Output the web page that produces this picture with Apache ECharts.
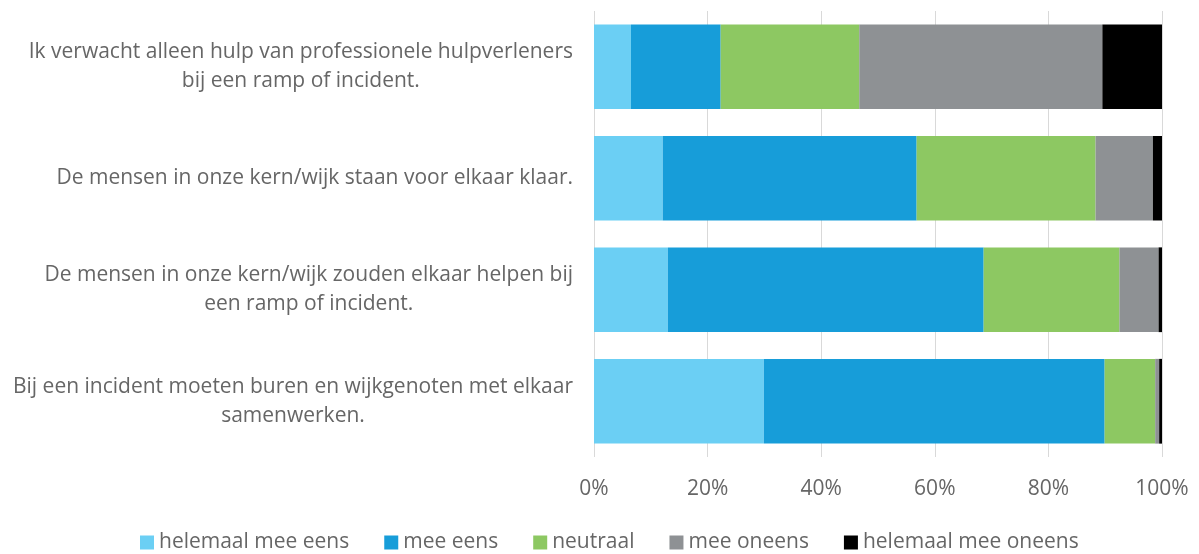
<!DOCTYPE html>
<html>
<head>
<meta charset="utf-8">
<script src="https://cdn.jsdelivr.net/npm/echarts@6/dist/echarts.min.js"></script>
<style>
  html, body { margin: 0; padding: 0; background: #fff; }
  #chart { width: 1199px; height: 554px; }
</style>
</head>
<body>
<div id="chart"></div>
<script>
// categories, bottom to top (ECharts category axis starts at the bottom)
const statements = [
    'Bij een incident moeten buren en wijkgenoten met elkaar\nsamenwerken.',
    'De mensen in onze kern/wijk zouden elkaar helpen bij\neen ramp of incident.',
    'De mensen in onze kern/wijk staan voor elkaar klaar.',
    'Ik verwacht alleen hulp van professionele hulpverleners\nbij een ramp of incident.'
]
const seriesNames = ['helemaal mee eens', 'mee eens', 'neutraal', 'mee oneens', 'helemaal mee oneens']
const colors = ['#6BCFF4', '#179DD9', '#8DC862', '#8E9194', '#000000']

// percentages per answer, same order as statements
const helemaalEens = [29.9, 13.0, 12.1, 6.5]
const eens = [60.0, 55.6, 44.7, 15.8]
const neutraal = [8.9, 23.9, 31.5, 24.4]
const oneens = [0.7, 6.9, 10.1, 42.8]
const helemaalOneens = [0.5, 0.6, 1.6, 10.5]

const xTicks = [0, 20, 40, 60, 80, 100]

const values = [helemaalEens, eens, neutraal, oneens, helemaalOneens]
const font = "'Open Sans', sans-serif"
const textColor = '#666666'

var myChart = echarts.init(document.getElementById('chart'))
const option = {
    animation: false,
    textStyle: { fontFamily: font },
    legend: {
        data: seriesNames,
        left: 140,
        top: 532,
        padding: 0,
        itemWidth: 14,
        itemHeight: 14,
        itemGap: 35,
        icon: 'rect',
        textStyle: { color: textColor, fontSize: 21, fontFamily: font }
    },
    grid: {
        left: 594,
        right: 37,
        top: 11,
        bottom: 97
    },
    xAxis: {
        type: 'value',
        min: xTicks[0],
        max: xTicks[xTicks.length - 1],
        interval: 20,
        axisLine: { show: false },
        axisTick: { show: false },
        splitLine: { lineStyle: { color: '#d9d9d9', width: 1 } },
        axisLabel: {
            formatter: '{value}%',
            color: textColor,
            fontSize: 21,
            margin: 22,
            fontFamily: font
        }
    },
    yAxis: {
        type: 'category',
        data: statements,
        axisLine: { show: false },
        axisTick: { show: false },
        axisLabel: {
            margin: 21,
            align: 'right',
            formatter: (v) => '{c|' + v.split('\n').join('}\n{c|') + '}',
            rich: {
                c: { align: 'center', color: textColor, fontSize: 21, lineHeight: 29, fontFamily: font }
            }
        }
    },
    series: values.map((d, i) => ({
        name: seriesNames[i],
        type: 'bar',
        stack: 'total',
        barWidth: '76%',
        itemStyle: { color: colors[i] },
        data: d
    }))
};
myChart.setOption(option)
</script>
</body>
</html>
